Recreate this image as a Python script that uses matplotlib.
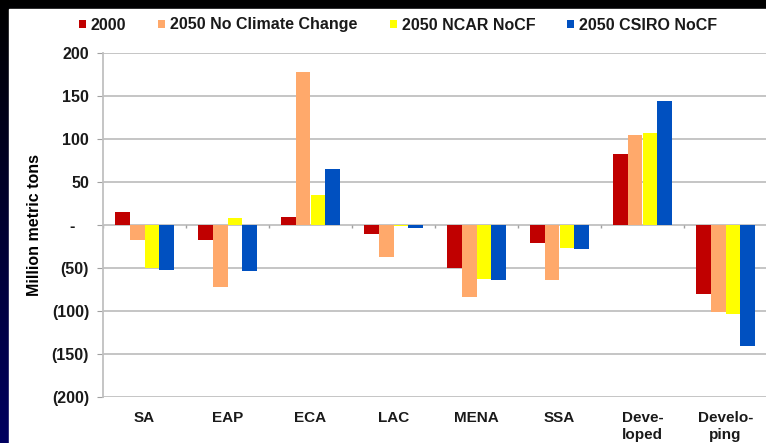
import matplotlib
matplotlib.use("Agg")
import matplotlib.pyplot as plt
import numpy as np
from matplotlib.patches import Rectangle

regions = ["SA", "EAP", "ECA", "LAC", "MENA", "SSA", "Deve-\nloped", "Develo-\nping"]
series = ["2000", "2050 No Climate Change", "2050 NCAR NoCF", "2050 CSIRO NoCF"]
v2000 = [15, -18, 9, -10, -50, -21, 82, -80]
v_nocc = [-18, -72, 178, -37, -84, -64, 105, -101]
v_ncar = [-50, 8, 35, -1, -63, -27, 107, -103]
v_csiro = [-52, -53, 65, -3, -64, -28, 144, -141]
colors = ["#C00000", "#FFA96B", "#FFFF00", "#0050C0"]
yticks = [200, 150, 100, 50, 0, -50, -100, -150, -200]

plt.rcParams["font.family"] = ["Liberation Sans", "DejaVu Sans"]
plt.rcParams["font.weight"] = "bold"
plt.rcParams["text.color"] = "#1a1a1a"

fig = plt.figure(figsize=(7.66, 4.43), dpi=100)

# dark slide background with white panel
bg = fig.add_axes([0, 0, 1, 1], zorder=-10)
grad = np.linspace(0, 1, 256).reshape(-1, 1)
bg.imshow(grad, extent=[0, 1, 0, 1], aspect="auto", origin="upper",
          cmap=matplotlib.colors.LinearSegmentedColormap.from_list("bg", ["#000000", "#000060"]))
bg.add_patch(Rectangle((9 / 766, 0), 1, 1 - 9 / 443, color="white"))
bg.set_xlim(0, 1)
bg.set_ylim(0, 1)
bg.axis("off")

ax = fig.add_axes([103 / 766, 1 - 397 / 443, 664 / 766, 344 / 443])
ax.set_facecolor("none")

x = np.arange(len(regions))
w = 0.18
data = [v2000, v_nocc, v_ncar, v_csiro]
for i, (vals, c, name) in enumerate(zip(data, colors, series)):
    ax.bar(x + (i - 1.5) * w, vals, w, color=c, label=name, zorder=3)

ax.set_xlim(-0.5, len(regions) - 0.5)
ax.set_ylim(-200, 200)
ax.set_yticks(yticks)
ax.set_yticklabels(["-   " if t == 0 else (f"({-t})" if t < 0 else str(t)) for t in yticks])
ax.yaxis.grid(True, color="#C0C0C0", linewidth=1.3, zorder=0)
ax.set_axisbelow(True)

# category separator ticks on the zero line
ax.vlines(np.arange(len(regions) + 1) - 0.5, -3, 0, color="#A0A0A0", linewidth=1, zorder=2)

ax.set_xticks(x)
ax.set_xticklabels(regions, fontsize=11, fontweight="bold", va="top", linespacing=1.25,
                   color="#1a1a1a")
ax.tick_params(axis="x", length=0, pad=10)
ax.tick_params(axis="y", length=4, color="#A0A0A0", labelsize=11.5, pad=6, labelcolor="#1a1a1a")
for s in ["top", "right", "bottom"]:
    ax.spines[s].set_visible(False)
ax.spines["left"].set_color("#C0C0C0")
ax.spines["left"].set_linewidth(1.3)

ax.set_ylabel("Million metric tons", fontsize=11.5, fontweight="bold", labelpad=7)

fig.legend(loc="center", bbox_to_anchor=(398 / 766, 1 - 25 / 443), ncol=4, frameon=False,
           fontsize=11.5, handlelength=0.45, handleheight=0.45, handletextpad=0.3,
           columnspacing=2.0)

fig.savefig("out.png", dpi=100)
